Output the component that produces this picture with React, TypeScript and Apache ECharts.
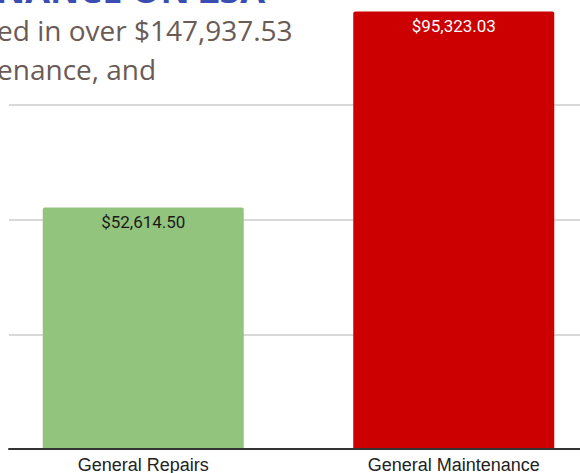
import React, { useEffect, useRef } from "react";
import * as echarts from "echarts";

const categories = ["General Repairs", "General Maintenance"];
const values = [52614.5, 95323.03];
const valueLabels = ["$52,614.50", "$95,323.03"];
const barColors = ["#93c47d", "#cc0000"];
const labelColors = ["#1a1a1a", "#ffffff"];
const titleText = "NANCE ON 23A";
const subtitleLines = ["ed in over $147,937.53", "enance, and"];

export default function App() {
  const ref = useRef<HTMLDivElement>(null);
  useEffect(() => {
    if (!ref.current) return;
    const chart = echarts.init(ref.current, null, { renderer: "svg" });
    chart.setOption({
      animation: false,
      backgroundColor: "#ffffff",
      grid: [
        { left: -12, width: 621, top: -10, bottom: 24, containLabel: false, outerBoundsMode: "none" },
        { left: 9, right: 0, top: -10, bottom: 24, containLabel: false, outerBoundsMode: "none" },
      ],
      xAxis: [
        {
          type: "category",
          gridIndex: 0,
          data: categories,
          axisLine: { show: false },
          axisTick: { show: false },
          axisLabel: {
            fontFamily: "Liberation Sans, Arial, sans-serif",
            fontSize: 18,
            color: "#222222",
            margin: 7,
          },
        },
        {
          type: "category",
          gridIndex: 1,
          data: ["a"],
          z: 5,
          axisLine: { show: true, lineStyle: { color: "#333333", width: 2 } },
          axisTick: { show: false },
          axisLabel: { show: false },
        },
      ],
      yAxis: [
        {
          type: "value",
          gridIndex: 0,
          min: 0,
          max: 100000,
          interval: 25000,
          axisLabel: { show: false },
          axisLine: { show: false },
          axisTick: { show: false },
          splitLine: { show: false },
        },
        {
          type: "value",
          gridIndex: 1,
          min: 0,
          max: 100000,
          interval: 25000,
          axisLabel: { show: false },
          axisLine: { show: false },
          axisTick: { show: false },
          splitLine: { show: true, lineStyle: { color: "#cccccc", width: 1.5 } },
        },
      ],
      series: [
        {
          type: "bar",
          xAxisIndex: 0,
          yAxisIndex: 0,
          barWidth: 201,
          data: values.map((v, i) => ({
            value: v,
            itemStyle: { color: barColors[i], borderRadius: [2, 2, 0, 0] },
            label: {
              show: true,
              position: "insideTop",
              distance: 6,
              formatter: valueLabels[i],
              color: labelColors[i],
              fontFamily: "Roboto, sans-serif",
              fontSize: 17,
            },
          })),
        },
      ],
      graphic: [
        {
          type: "text",
          x: -4,
          y: 7,
          style: {
            text: titleText,
            font: "bold 36px 'Open Sans', sans-serif",
            fill: "#3a4db3",
            verticalAlign: "bottom",
          },
        },
        {
          type: "text",
          x: -3,
          y: 16,
          style: {
            text: subtitleLines[0],
            font: "28px 'Open Sans', sans-serif",
            fill: "#6b5b55",
            verticalAlign: "top",
          },
        },
        {
          type: "text",
          x: -3,
          y: 55,
          style: {
            text: subtitleLines[1],
            font: "28px 'Open Sans', sans-serif",
            fill: "#6b5b55",
            verticalAlign: "top",
          },
        },
      ],
    });
    return () => chart.dispose();
  }, []);
  return (
    <div
      ref={ref}
      style={{ position: "fixed", left: 0, top: 0, width: 580, height: 473 }}
    />
  );
}
